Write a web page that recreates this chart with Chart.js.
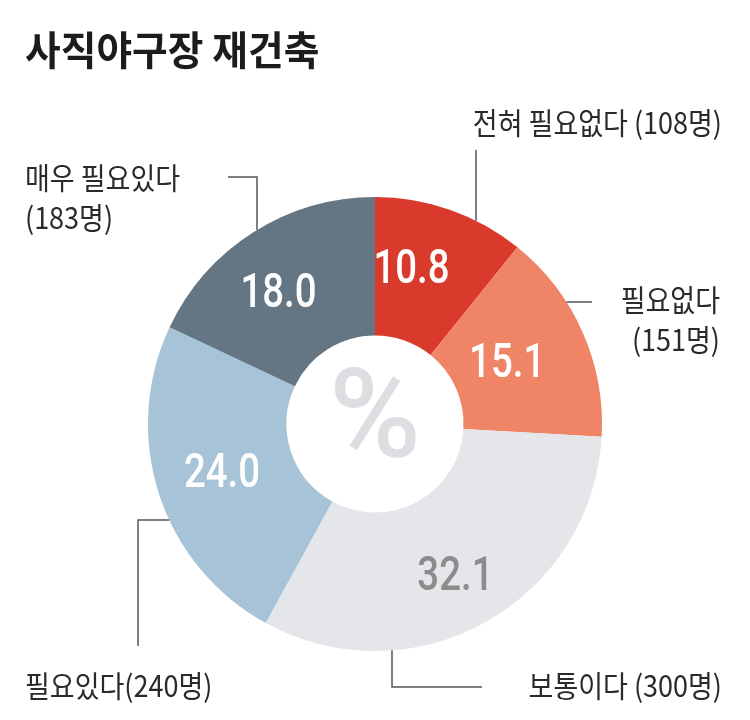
<!DOCTYPE html>
<html>
<head>
<meta charset="utf-8">
<script src="https://cdn.jsdelivr.net/npm/chart.js@4/dist/chart.umd.min.js"></script>
<style>
  html, body { margin: 0; padding: 0; background: #fff; }
  #wrap { width: 750px; height: 720px; }
</style>
</head>
<body>
<div id="wrap"><canvas id="rebuildChart" width="750" height="720"></canvas></div>
<script>
const chartTitle = "사직야구장 재건축";
const categories = ["전혀 필요없다", "필요없다", "보통이다", "필요있다", "매우 필요있다"];
const percentValues = [10.8, 15.1, 32.1, 24.0, 18.0];
const peopleCounts = [108, 151, 300, 240, 183];
const sliceColors = ["#d93a2b", "#ef8466", "#e5e6e9", "#a6c3d7", "#647583"];
const valueTextColors = ["#ffffff", "#ffffff", "#8c8c8c", "#ffffff", "#ffffff"];

// small hand nudges of the in-slice numbers, like the original artwork
const valueNudge = [[-16, -4], [-12, 5], [4, 16], [-3, 2], [-12, 4]];

// where each outside label goes, and how its leader line runs
const labelLayout = [
  { lines: [categories[0] + " (" + peopleCounts[0] + "명)"], x: 722, y: 123, align: "right",
    leader: { type: "v", x: 476, y: 150 } },
  { lines: [categories[1], "(" + peopleCounts[1] + "명)"], x: 720, y: 300, align: "right",
    leader: { type: "h", y: 302, x: 592 } },
  { lines: [categories[2] + " (" + peopleCounts[2] + "명)"], x: 722, y: 686, align: "right",
    leader: { type: "vh", x: 392, y: 687, x2: 482 } },
  { lines: [categories[3] + "(" + peopleCounts[3] + "명)"], x: 25, y: 686, align: "left",
    leader: { type: "hv", y: 520, x: 138, y2: 646 } },
  { lines: [categories[4], "(" + peopleCounts[4] + "명)"], x: 25, y: 178, align: "left",
    leader: { type: "hv2", x: 257, y: 177, x2: 228 } },
];

function drawText(ctx, text, x, y, font, color, align, squeeze) {
  ctx.save();
  ctx.font = font;
  ctx.fillStyle = color;
  ctx.textBaseline = "middle";
  ctx.translate(x, y);
  ctx.scale(squeeze, 1);
  const w = ctx.measureText(text).width;
  let ox = 0;
  if (align === "center") ox = -w / 2;
  if (align === "right") ox = -w;
  ctx.textAlign = "left";
  ctx.fillText(text, ox, 0);
  ctx.restore();
}

const annotationPlugin = {
  id: "annotations",
  afterDatasetsDraw(chart) {
    const ctx = chart.ctx;
    const arcs = chart.getDatasetMeta(0).data;
    const cx = arcs[0].x, cy = arcs[0].y;
    const R = arcs[0].outerRadius, r = arcs[0].innerRadius;

    // title
    drawText(ctx, chartTitle, 25, 50, "bold 40px 'Noto Sans CJK KR'", "#1c1c1c", "left", 0.97);

    // centre percent sign
    drawText(ctx, "%", cx, cy + 2, "500 125px Roboto", "#dddee1", "center", 1);

    // values inside the slices
    arcs.forEach((arc, i) => {
      const mid = (arc.startAngle + arc.endAngle) / 2;
      const rr = (R + r) / 2;
      const x = cx + Math.cos(mid) * rr + valueNudge[i][0];
      const y = cy + Math.sin(mid) * rr + valueNudge[i][1];
      drawText(ctx, percentValues[i].toFixed(1), x, y, "500 48px Roboto", valueTextColors[i], "center", 0.8);
    });

    // leader lines
    ctx.save();
    ctx.strokeStyle = "#555";
    ctx.lineWidth = 1.5;
    labelLayout.forEach((lab) => {
      const L = lab.leader;
      ctx.beginPath();
      if (L.type === "v") {
        const ey = cy - Math.sqrt(R * R - (L.x - cx) * (L.x - cx));
        ctx.moveTo(L.x, L.y);
        ctx.lineTo(L.x, ey);
      } else if (L.type === "h") {
        const ex = cx + Math.sqrt(R * R - (L.y - cy) * (L.y - cy));
        ctx.moveTo(L.x, L.y);
        ctx.lineTo(ex, L.y);
      } else if (L.type === "vh") {
        const ey = cy + Math.sqrt(R * R - (L.x - cx) * (L.x - cx));
        ctx.moveTo(L.x, ey);
        ctx.lineTo(L.x, L.y);
        ctx.lineTo(L.x2, L.y);
      } else if (L.type === "hv") {
        const ex = cx - Math.sqrt(R * R - (L.y - cy) * (L.y - cy));
        ctx.moveTo(ex, L.y);
        ctx.lineTo(L.x, L.y);
        ctx.lineTo(L.x, L.y2);
      } else if (L.type === "hv2") {
        const ey = cy - Math.sqrt(R * R - (L.x - cx) * (L.x - cx));
        ctx.moveTo(L.x2, L.y);
        ctx.lineTo(L.x, L.y);
        ctx.lineTo(L.x, ey);
      }
      ctx.stroke();
    });
    ctx.restore();

    // outside labels
    labelLayout.forEach((lab) => {
      lab.lines.forEach((line, j) => {
        drawText(ctx, line, lab.x, lab.y + j * 40, "30px 'Noto Sans CJK KR'", "#2a2a2a", lab.align, 0.9);
      });
    });
  },
};

const ctx = document.getElementById("rebuildChart").getContext("2d");
const rebuildChart = new Chart(ctx, {
  type: "doughnut",
  data: {
    labels: categories,
    datasets: [
      {
        data: percentValues,
        backgroundColor: sliceColors,
        borderWidth: 0,
      },
    ],
  },
  options: {
    responsive: false,
    animation: false,
    cutout: "39%",
    layout: {
      padding: { top: 197, bottom: 69, left: 148, right: 148 },
    },
    plugins: {
      legend: { display: false },
      tooltip: { enabled: false },
    },
  },
  plugins: [annotationPlugin],
});
</script>
</body>
</html>
